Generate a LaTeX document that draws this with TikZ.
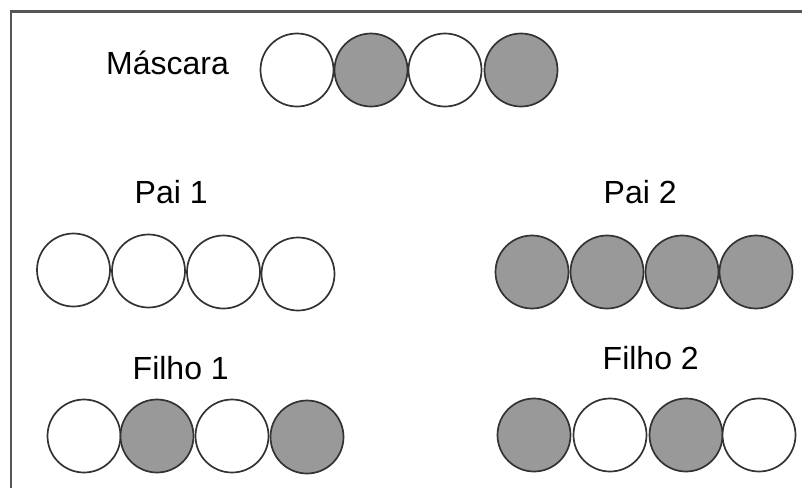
\documentclass[tikz,border=0pt]{standalone}
\usepackage{fontspec}
\setmainfont{Liberation Sans}
\definecolor{genegray}{HTML}{999999}
\definecolor{rimcolor}{HTML}{333333}
\definecolor{framecolor}{HTML}{555555}
\tikzset{
  gene/.style={circle, draw=rimcolor, line width=1.7pt, minimum size=73pt, inner sep=0pt},
  geneon/.style={gene, fill=genegray},
  geneoff/.style={gene, fill=white},
  caption/.style={anchor=base west, inner sep=0pt, font=\fontsize{32}{32}\selectfont},
  framestroke/.style={draw=framecolor, line width=2.4pt}
}
\begin{document}
\begin{tikzpicture}[x=1pt,y=-1pt]
  \useasboundingbox (0,0) rectangle (802,488);
  \fill[white] (0,0) rectangle (802,488);

  % frame: top and left rules
  \coordinate (ftl) at (11,11.5);
  \coordinate (ftr) at (802,11.5);
  \coordinate (fbl) at (11,488);
  \draw[framestroke] (ftr) -- (ftl) -- (fbl);

  % mask
  \node[caption] (lmask) at (106,74) {Máscara};
  \node[geneoff] (m1) at (297,70) {};
  \node[geneon]  (m2) at (371,70) {};
  \node[geneoff] (m3) at (445,70) {};
  \node[geneon]  (m4) at (521,70) {};

  % parent 1
  \node[caption] (lp1) at (134.5,203) {Pai 1};
  \node[geneoff] (pa1) at (73.5,270) {};
  \node[geneoff] (pa2) at (148.5,271) {};
  \node[geneoff] (pa3) at (223.5,272) {};
  \node[geneoff] (pa4) at (298,274) {};

  % parent 2
  \node[caption] (lp2) at (603.5,203) {Pai 2};
  \node[geneon] (pb1) at (532,272) {};
  \node[geneon] (pb2) at (607,272) {};
  \node[geneon] (pb3) at (682,272) {};
  \node[geneon] (pb4) at (756,272) {};

  % child 1
  \node[caption] (lf1) at (132.5,379) {Filho 1};
  \node[geneoff] (fa1) at (84,436) {};
  \node[geneon]  (fa2) at (157,436) {};
  \node[geneoff] (fa3) at (232,436) {};
  \node[geneon]  (fa4) at (307,437) {};

  % child 2
  \node[caption] (lf2) at (602.5,369) {Filho 2};
  \node[geneon]  (fb1) at (534,435) {};
  \node[geneoff] (fb2) at (610,435) {};
  \node[geneon]  (fb3) at (686,435) {};
  \node[geneoff] (fb4) at (759,435) {};
\end{tikzpicture}
\end{document}
